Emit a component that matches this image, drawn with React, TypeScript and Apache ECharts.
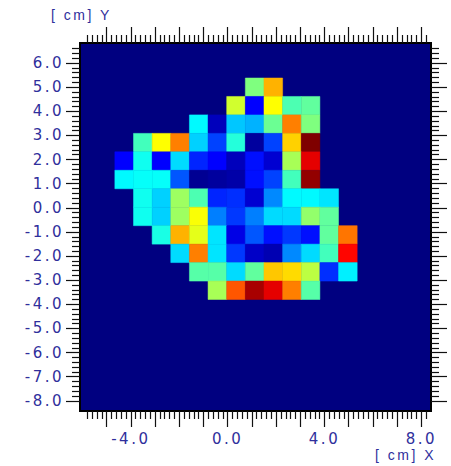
import React, { useEffect, useRef } from "react";
import * as echarts from "echarts";

const xRange = [-6.1, 8.4];
const yRange = [-8.42, 6.83];
const xLabels = [-4, 0, 4, 8];
const yLabels = [6, 5, 4, 3, 2, 1, 0, -1, -2, -3, -4, -5, -6, -7, -8];
const xMajor = [-5, -4, -3, -2, -1, 0, 1, 2, 3, 4, 5, 6, 7, 8];
const yMajor = yLabels;
const xMinor = [-5.8, -5.6, -5.4, -5.2, -4.8, -4.6, -4.4, -4.2, -3.8, -3.6, -3.4, -3.2, -2.8, -2.6, -2.4, -2.2, -1.8, -1.6, -1.4, -1.2, -0.8, -0.6, -0.4, -0.2, 0.2, 0.4, 0.6, 0.8, 1.2, 1.4, 1.6, 1.8, 2.2, 2.4, 2.6, 2.8, 3.2, 3.4, 3.6, 3.8, 4.2, 4.4, 4.6, 4.8, 5.2, 5.4, 5.6, 5.8, 6.2, 6.4, 6.6, 6.8, 7.2, 7.4, 7.6, 7.8, 8.2];
const yMinor = [-7.8, -7.6, -7.4, -7.2, -6.8, -6.6, -6.4, -6.2, -5.8, -5.6, -5.4, -5.2, -4.8, -4.6, -4.4, -4.2, -3.8, -3.6, -3.4, -3.2, -2.8, -2.6, -2.4, -2.2, -1.8, -1.6, -1.4, -1.2, -0.8, -0.6, -0.4, -0.2, 0.2, 0.4, 0.6, 0.8, 1.2, 1.4, 1.6, 1.8, 2.2, 2.4, 2.6, 2.8, 3.2, 3.4, 3.6, 3.8, 4.2, 4.4, 4.6, 4.8, 5.2, 5.4, 5.6, 5.8, 6.2, 6.4, 6.6];

const cellLeft = -4.66;
const cellTop = 5.38;
const cellW = 0.77;
const cellH = 0.765;
const _ = null;

const row0 = [_, _, _, _, _, _, _, 50, 70, _, _, _, _];
const row1 = [_, _, _, _, _, _, 58, 12.5, 62.5, 45, 47, _, _];
const row2 = [_, _, _, _, 37, 6, 32, 30, 48, 75, 50, _, _];
const row3 = [_, 44, 62.5, 75, 33, 19, 41, 3, 19, 67, 100, _, _];
const row4 = [12.5, 39, 12.5, 34, 16, 12.5, 6, 14, 8, 54, 90, _, _];
const row5 = [37, 38, 38, 21, 2, 3, 4, 14, 19, 44, 98, _, _];
const row6 = [_, 39, 33, 53, 45, 16, 17, 8, 26, 37, 37, 35, _];
const row7 = [_, 39, 33, 53, 62, 25, 18, 25, 34, 34, 52, 47, _];
const row8 = [_, _, 40, 70, 60, 35, 10, 21, 14, 18, 14, 47, 76];
const row9 = [_, _, _, 34, 75, 35, 18, 7, 5, 26, 34, 44, 87];
const row10 = [_, _, _, _, 46, 46, 34, 47, 68, 66, 56, 17, 36];
const row11 = [_, _, _, _, _, 54, 79, 96, 90, 75, 46, _, _];
const rows = [row0, row1, row2, row3, row4, row5, row6, row7, row8, row9, row10, row11];

const jet = ["#00007f", "#0000ff", "#007fff", "#00ffff", "#7fff7f", "#ffff00", "#ff7f00", "#ff0000", "#7f0000"];
const textColor = "#2f2f9c";
const font = "DejaVu Sans";

const cells: number[][] = [];
rows.forEach((r, i) =>
  r.forEach((v, j) => {
    if (v !== null) cells.push([cellLeft + j * cellW, cellTop - i * cellH, v as number]);
  })
);

function axis(position: string, range: number[], ticks: number[], length: number, labels?: number[], margin = 0) {
  return {
    type: "value",
    position,
    min: range[0],
    max: range[1],
    splitLine: { show: false },
    axisLine: { show: true, onZero: false, lineStyle: { color: "#000", width: 2 } },
    axisTick: { show: true, customValues: ticks, length, lineStyle: { color: "#111", width: 1.2 } },
    axisLabel: labels
      ? {
          show: true,
          customValues: labels,
          margin,
          color: textColor,
          fontFamily: font,
          fontSize: 15,
          formatter: (v: number) => v.toFixed(1),
        }
      : { show: false },
  };
}

export default function App() {
  const ref = useRef<HTMLDivElement>(null);
  useEffect(() => {
    const chart = echarts.init(ref.current!, null, { renderer: "svg" });
    chart.setOption({
      animation: false,
      backgroundColor: "#fff",
      grid: { left: 80, right: 20, top: 43, bottom: 55, show: true, backgroundColor: "#000080", borderWidth: 0 },
      xAxis: [
        axis("bottom", xRange, xMajor, 16, xLabels, 20),
        axis("bottom", xRange, xMinor, 8),
        axis("top", xRange, xMajor, 16),
        axis("top", xRange, xMinor, 8),
      ],
      yAxis: [
        axis("left", yRange, yMajor, 14, yLabels, 16),
        axis("left", yRange, yMinor, 8),
        axis("right", yRange, yMajor, 16),
        axis("right", yRange, yMinor, 8),
      ],
      visualMap: { show: false, min: 0, max: 100, dimension: 2, seriesIndex: 0, inRange: { color: jet } },
      series: [
        {
          type: "custom",
          xAxisIndex: 0,
          yAxisIndex: 0,
          encode: { x: 0, y: 1 },
          data: cells,
          renderItem: (_p: any, api: any) => {
            const a = api.coord([api.value(0), api.value(1)]);
            const b = api.coord([api.value(0) + cellW, api.value(1) - cellH]);
            const color = api.visual("color");
            return {
              type: "rect",
              shape: { x: a[0], y: a[1], width: b[0] - a[0], height: b[1] - a[1] },
              style: { fill: color, stroke: color, lineWidth: 0.5 },
            };
          },
        },
      ],
      graphic: [
        { type: "text", x: 51, y: 8, style: { text: "[ cm] Y", fill: textColor, font: "14px 'Liberation Sans'" } },
        { type: "text", x: 375, y: 448, style: { text: "[ cm] X", fill: textColor, font: "14px 'Liberation Sans'" } },
      ],
    });
    return () => chart.dispose();
  }, []);
  return (
    <div
      ref={ref}
      style={{ position: "absolute", left: 0, top: 0, width: 451, height: 466, letterSpacing: "2.5px" }}
    />
  );
}
